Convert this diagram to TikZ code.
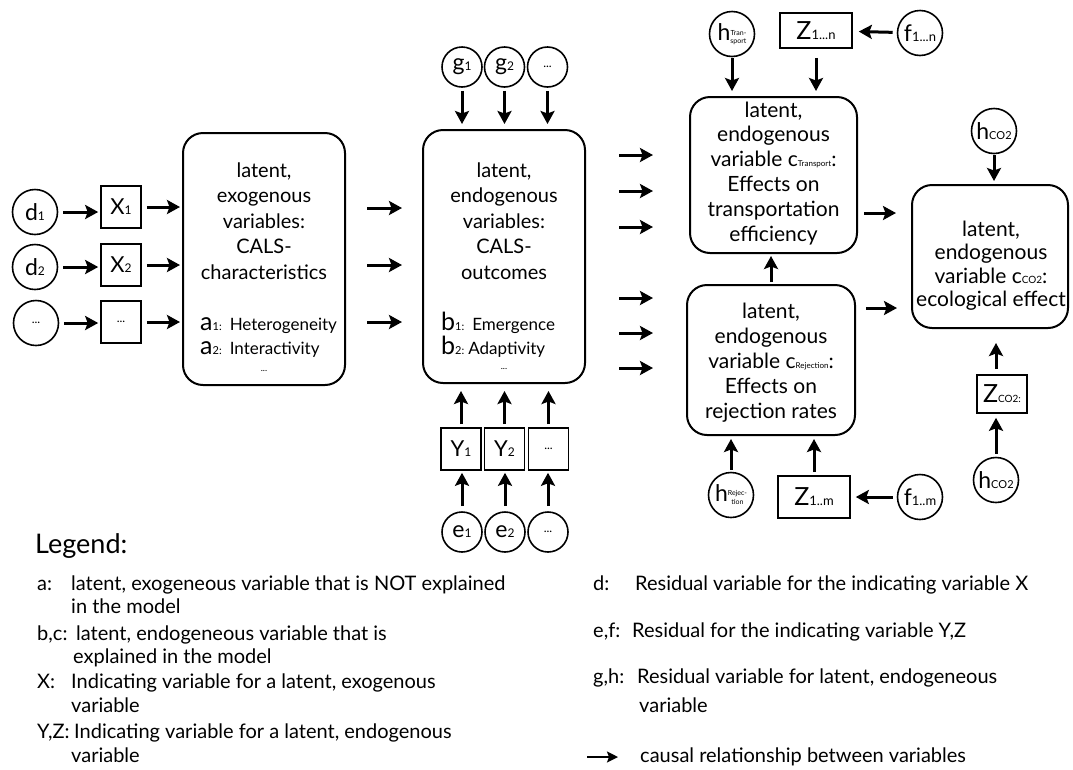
\documentclass[tikz,border=0pt]{standalone}
\usepackage{fontspec}
\usepackage{graphicx}
\setmainfont{Lato}
\usetikzlibrary{arrows.meta,calc}
\newcommand\fs[2]{\fontsize{#1}{#2}\selectfont}
\newcommand\lo[2][12]{{\fontsize{#1}{#1}\selectfont #2}}
\newcommand\stk[2]{\raisebox{-3pt}{\fontsize{7}{7}\selectfont\shortstack{#1\\#2}}}
\begin{document}
\begin{tikzpicture}[x=1pt,y=-1pt,
  arr/.style={line width=3pt,-{Stealth[length=13pt,width=14pt,inset=2.5pt]}},
  circ/.style={circle,draw,line width=1.6pt,minimum size=45pt,inner sep=0pt,font=\fs{23}{23}},
  smcirc/.style={circle,draw,line width=1.6pt,minimum size=40pt,inner sep=0pt,font=\fs{23}{23}},
  sq/.style={rectangle,draw,line width=1.6pt,minimum width=40pt,minimum height=42pt,inner sep=0pt,font=\fs{22}{22}},
  bigbox/.style={rectangle,rounded corners=20pt,draw,line width=2pt},
  btext/.style={align=center,inner sep=0pt,font=\fs{20}{25.5}},
  itm/.style={anchor=base west,inner sep=0pt,align=left,font=\fs{17}{24.5}},
  leg/.style={anchor=base west,inner sep=0pt,font=\fs{20}{20}}
]
\useasboundingbox (0,0) rectangle (1073,769);

% ---- left block
\node[circ] (d1) at (35,212) {d\lo1};
\node[circ] (d2) at (35,267) {d\lo2};
\node[circ] (d3) at (36,323) {\lo{...}};
\node[sq] (X1) at (121,207) {X\lo1};
\node[sq] (X2) at (121,265) {X\lo2};
\node[sq] (X3) at (121,322) {\lo{...}};
\node[bigbox,minimum width=162pt,minimum height=252pt] (B1) at (264,259) {};
\node[btext,anchor=base] (B1t) at (264,279) {latent,\\exogenous\\variables:\\CALS-\\characteristics};
\node[itm] (B1a) at (200,354.5) {\lo[25]{a}\lo[11]{1:}\hspace{8pt}Heterogeneity\\\lo[25]{a}\lo[11]{2:}\hspace{8pt}Interactivity};
\node[inner sep=0pt,font=\fs{9}{9}] (B1d) at (264,371) {...};

\foreach \i in {1,2,3}{
  \draw[arr,shorten <=5pt,shorten >=2pt] (d\i) -- (d\i -| X\i.west);
  \draw[arr,shorten <=5pt,shorten >=2pt] (X\i) -- (X\i -| B1.west);
}

% ---- middle block
\node[bigbox,minimum width=162pt,minimum height=253pt] (B2) at (504,256.5) {};
\node[btext,anchor=base] (B2t) at (504,279) {latent,\\endogenous\\variables:\\CALS-\\outcomes};
\node[itm] (B2a) at (441,354.5) {\lo[25]{b}\lo[11]{1:}\hspace{8pt}Emergence\\\lo[25]{b}\lo[11]{2:}\hspace{4pt}Adaptivity};
\node[inner sep=0pt,font=\fs{9}{9}] (B2d) at (504,369) {...};

\foreach \y [count=\i] in {208,265,322}{
  \coordinate (m\i s) at (367,\y);
  \coordinate (m\i e) at (402,\y);
  \draw[arr] (m\i s) -- (m\i e);
}

\node[smcirc] (g1) at (462,67) {g\lo1};
\node[smcirc] (g2) at (504.5,67) {g\lo2};
\node[smcirc] (g3) at (547.5,67) {\lo{...}};
\node[sq] (Y1) at (461,449) {Y\lo1};
\node[sq] (Y2) at (504.5,449) {Y\lo2};
\node[sq] (Y3) at (548.5,449) {\lo{...}};
\node[smcirc] (e1) at (462,532) {e\lo1};
\node[smcirc] (e2) at (505,532) {e\lo2};
\node[smcirc] (e3) at (548,532) {\lo{...}};
\foreach \i in {1,2,3}{
  \draw[arr,shorten <=3pt,shorten >=5pt] (g\i) -- (g\i |- B2.north);
  \draw[arr,shorten <=3pt,shorten >=7pt] (Y\i) -- (Y\i |- B2.south);
  \draw[arr,shorten <=5pt,shorten >=2pt] (e\i) -- (e\i |- Y\i.south);
}

\foreach \y [count=\i] in {155,191,227,298,333,368}{
  \coordinate (n\i s) at (619,\y);
  \coordinate (n\i e) at (653,\y);
  \draw[arr] (n\i s) -- (n\i e);
}

% ---- right blocks
\node[bigbox,minimum width=167pt,minimum height=156pt] (cT) at (773.5,175) {};
\node[btext,font=\fs{21}{24.8},anchor=base] (cTt) at (773.5,241) {latent,\\endogenous\\variable c\lo[8]{Transport}:\\Effects on\\transportation\\efficiency};
\node[bigbox,minimum width=168pt,minimum height=150pt] (cR) at (771,360) {};
\node[btext,font=\fs{21}{25},anchor=base] (cRt) at (771,418) {latent,\\endogenous\\variable c\lo[8]{Rejection}:\\Effects on\\rejection rates};
\node[bigbox,minimum width=156pt,minimum height=143pt] (cC) at (990,256.5) {};
\node[btext,font=\fs{21}{23.5},anchor=base] (cCt) at (991,306.5) {latent,\\endogenous\\variable c\lo[10]{CO2}:\\ecological effect};

\node[circ] (hT) at (732,34) {h\stk{Tran-}{sport}};
\node[sq,minimum width=72pt,minimum height=35pt,font=\fs{25}{25}] (ZT) at (816,30.5) {Z\lo[13]{1...n}};
\node[circ] (fT) at (920,33) {f\lo[13]{1...n}};
\node[circ] (hC1) at (994,131) {h\lo[11]{CO2}};
\node[sq,minimum width=50pt,minimum height=38pt,font=\fs{25}{25}] (ZC) at (1002,394) {Z\lo[10]{CO2:}};
\node[circ] (hC2) at (996,480) {h\lo[11]{CO2}};
\node[circ] (hR) at (731,495) {h\stk{Rejec-}{tion}};
\node[sq,minimum width=72pt,minimum height=42pt,font=\fs{25}{25}] (ZR) at (814,497) {Z\lo[13]{1..m}};
\node[circ] (fR) at (920,497) {f\lo[13]{1..m}};

\coordinate (tA) at ($(cT.east)+(0,38)$);
\coordinate (rA) at ($(cR.east)+(0,-52)$);

\draw[arr,shorten <=1pt,shorten >=5pt] (hT) -- (hT |- cT.north);
\draw[arr,shorten <=9pt,shorten >=5pt] (ZT) -- (ZT |- cT.north);
\draw[arr,shorten <=4pt,shorten >=6pt] (fT) -- (ZT);
\draw[arr,shorten <=6pt,shorten >=15pt] (tA) -- (tA -| cC.west);
\draw[arr,shorten <=2pt,shorten >=2pt] (cR.north) -- (cR.north |- cT.south);
\draw[arr,shorten <=10pt,shorten >=14pt] (rA) -- (rA -| cC.west);
\draw[arr,shorten <=1pt,shorten >=3pt] (hC1) -- (hC1 |- cC.north);
\draw[arr,shorten <=5pt,shorten >=14pt] (ZC.north -| hC2) -- (hC2 |- cC.south);
\draw[arr,shorten <=3pt,shorten >=4pt] (hC2) -- (hC2 |- ZC.south);
\draw[arr,shorten <=2pt,shorten >=3pt] (hR) -- (hR |- cR.south);
\draw[arr,shorten <=3pt,shorten >=3pt] (ZR) -- (ZR |- cR.south);
\draw[arr,shorten <=4pt,shorten >=5pt] (fR) -- (ZR);

% ---- legend
\node[anchor=base west,inner sep=0pt,font=\fs{27}{27}] (Lg) at (35,553) {Legend:};
\node[leg] (La) at (37,590) {a:};
\node[leg] (La1) at (71,590) {latent, exogeneous variable that is NOT explained};
\node[leg] (La2) at (71,613) {in the model};
\node[leg] (Lb) at (37,640) {b,c:};
\node[leg] (Lb1) at (76,640) {latent, endogeneous variable that is};
\node[leg] (Lb2) at (73,663) {explained in the model};
\node[leg] (Lx) at (37,688) {X:};
\node[leg] (Lx1) at (71,688) {Indicating variable for a latent, exogenous};
\node[leg] (Lx2) at (71,712) {variable};
\node[leg] (Ly) at (37,738) {Y,Z:};
\node[leg] (Ly1) at (74,738) {Indicating variable for a latent, endogenous};
\node[leg] (Ly2) at (71,762) {variable};

\node[leg] (Ld) at (593,590) {d:};
\node[leg] (Ld1) at (635,590) {Residual variable for the indicating variable X};
\node[leg] (Le) at (593,637) {e,f:};
\node[leg] (Le1) at (632,637) {Residual for the indicating variable Y,Z};
\node[leg] (Lh) at (593,683) {g,h:};
\node[leg] (Lh1) at (637,683) {Residual variable for latent, endogeneous};
\node[leg] (Lh2) at (639,712) {variable};
\coordinate (LAs) at (587,757);
\coordinate (LAe) at (618,757);
\draw[line width=2pt,-{Stealth[length=11pt,width=11pt,inset=2pt]}] (LAs) -- (LAe);
\node[leg] (Lc) at (640,762) {causal relationship between variables};
\end{tikzpicture}
\end{document}
